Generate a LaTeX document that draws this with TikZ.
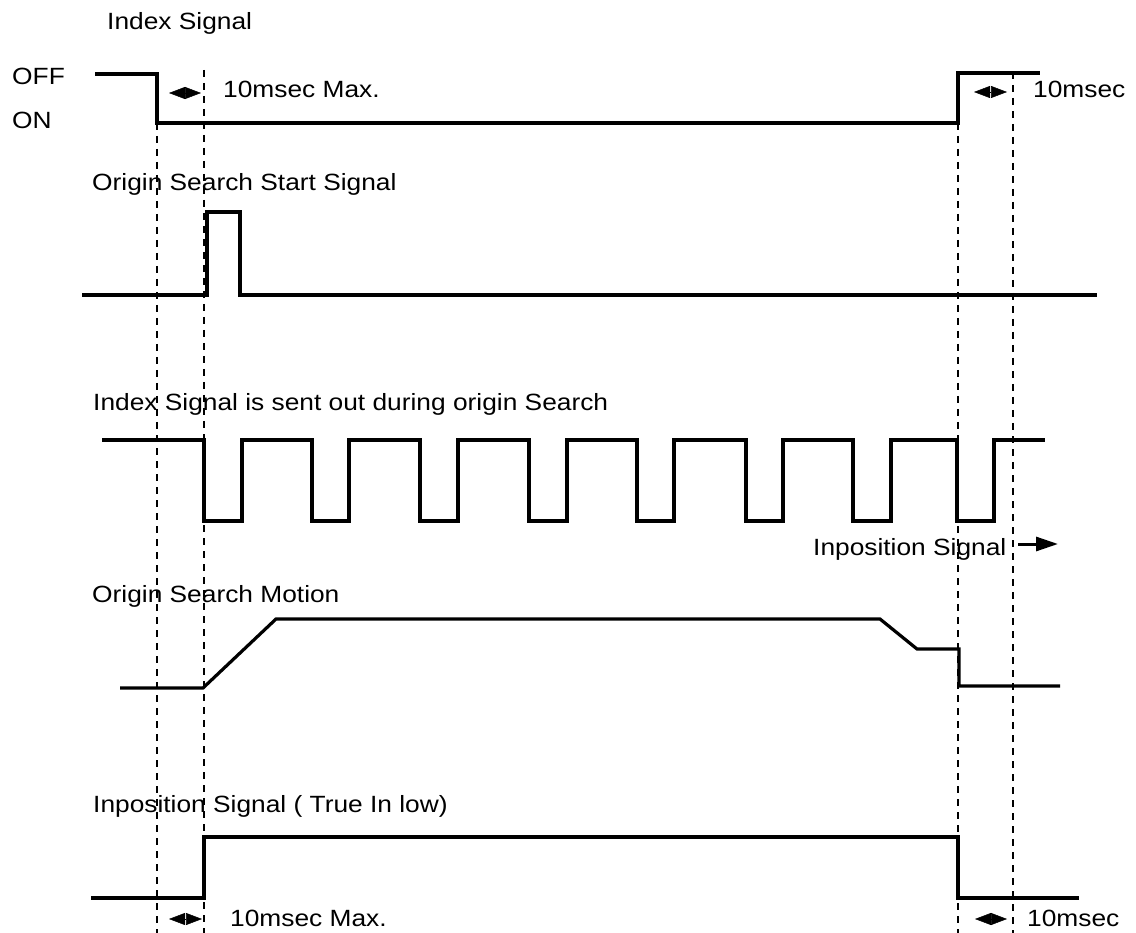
\documentclass[tikz,border=0pt]{standalone}
\usepackage{fontspec}
\setmainfont{Liberation Sans}[FakeStretch=1.12]
\usetikzlibrary{arrows.meta}
\begin{document}
\begin{tikzpicture}[x=1pt,y=-1pt,
  wave/.style={line width=3.2pt, line join=miter},
  guide/.style={line width=1.4pt, dash pattern=on 7pt off 6pt},
  lbl/.style={anchor=base west, inner sep=0pt, font=\fontsize{23.5}{28}\selectfont},
  span/.style={{Triangle[length=16pt,width=12pt]}-{Triangle[length=16pt,width=12pt]}, line width=0.5pt},
  pointer/.style={-{Triangle[length=22pt,width=14pt]}, line width=3pt}]
\useasboundingbox (0,0) rectangle (1136,933);
% guides
\draw[guide] (157,123) -- (157,933);
\draw[guide] (204,70) -- (204,933);
\draw[guide] (958,123) -- (958,933);
\draw[guide] (1013,72) -- (1013,933);
% labels
\node[lbl] (t1) at (107,30) {Index Signal};
\node[lbl] (off) at (12,85) {OFF};
\node[lbl] (on) at (12,129) {ON};
\node[lbl] (m1) at (223,98) {10msec Max.};
\node[lbl] (m2) at (1033,98) {10msec};
\node[lbl] (t2) at (92,191) {Origin Search Start Signal};
\node[lbl] (t3) at (93,410) {Index Signal is sent out during origin Search};
\node[lbl] (ip) at (813,555) {Inposition Signal};
\node[lbl] (t4) at (92,602) {Origin Search Motion};
\node[lbl] (t5) at (93,812) {Inposition Signal ( True In low)};
\node[lbl] (m3) at (230,926) {10msec Max.};
\node[lbl] (m4) at (1027,926) {10msec};
% span arrows
\coordinate (a1l) at (169,93); \coordinate (a1r) at (201,93);
\coordinate (a2l) at (974,92); \coordinate (a2r) at (1007,92);
\coordinate (a3l) at (169,919); \coordinate (a3r) at (202,919);
\coordinate (a4l) at (975,919); \coordinate (a4r) at (1007,919);
\draw[span] (a1l) -- (a1r);
\draw[span] (a2l) -- (a2r);
\draw[span] (a3l) -- (a3r);
\draw[span] (a4l) -- (a4r);
\coordinate (p1) at (1018,544); \coordinate (p2) at (1058,544);
\draw[pointer] (p1) -- (p2);
% waveforms
\draw[wave] (95,74) -- (157,74) -- (157,123) -- (958,123) -- (958,73) -- (1040,73);
\draw[wave] (82,295) -- (207,295) -- (207,212) -- (240,212) -- (240,295) -- (1097,295);
\draw[wave] (102,440)
  -- (204,440) -- (204,521) -- (242,521) -- (242,440)
  -- (312,440) -- (312,521) -- (349,521) -- (349,440)
  -- (420,440) -- (420,521) -- (458,521) -- (458,440)
  -- (529,440) -- (529,521) -- (567,521) -- (567,440)
  -- (637,440) -- (637,521) -- (674,521) -- (674,440)
  -- (746,440) -- (746,521) -- (783,521) -- (783,440)
  -- (853,440) -- (853,521) -- (891,521) -- (891,440)
  -- (957,440) -- (957,521) -- (994,521) -- (994,440)
  -- (1045,440);
\draw[wave] (120,688) -- (203,688) -- (276,619) -- (880,619) -- (917,649) -- (959,649) -- (959,686) -- (1060,686);
\draw[wave] (91,898) -- (204,898) -- (204,837) -- (958,837) -- (958,898) -- (1079,898);
\end{tikzpicture}
\end{document}
